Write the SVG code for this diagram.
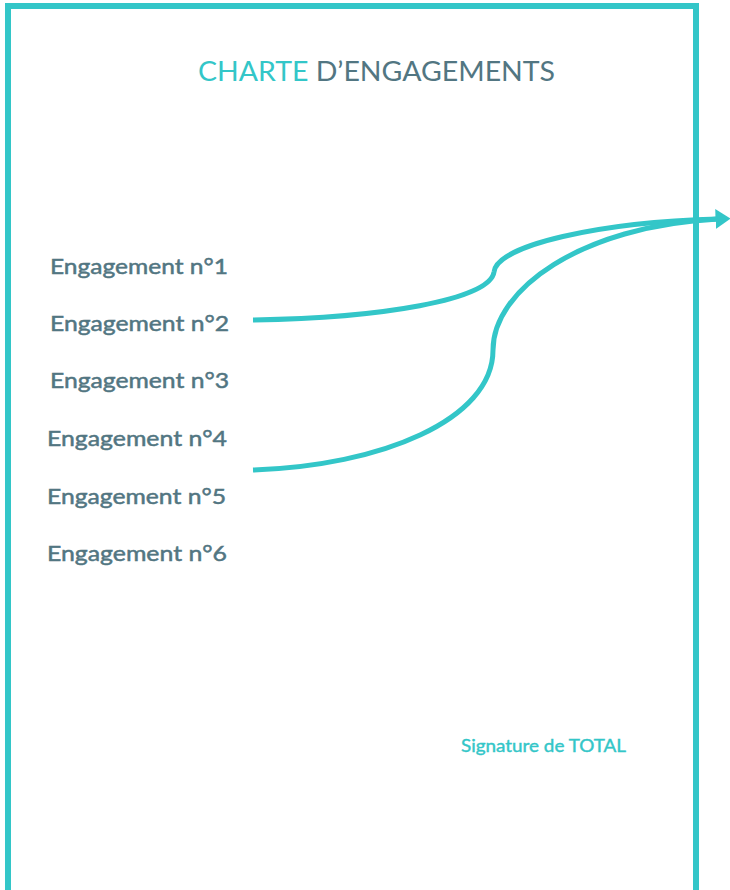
<svg xmlns="http://www.w3.org/2000/svg" width="730" height="890" viewBox="0 0 730 890">
<style>
.teal{fill:#33c6c8}
.dark{fill:#527682}
.lbl{font-family:Lato,"Noto Sans",sans-serif;font-size:22px;fill:#527682;stroke:#527682;stroke-width:0.5}
.conn{fill:none;stroke:#33c6c8;stroke-width:5;stroke-linecap:butt}
</style>
<defs>
<marker id="arr" markerWidth="4" markerHeight="4" refX="0.5" refY="2" orient="auto" markerUnits="strokeWidth">
<path d="M0,0 L3,2 L0,4 Z" fill="#33c6c8"/>
</marker>
</defs>
<rect width="730" height="890" fill="#fff"/>
<g id="frame">
<path d="M8,890 V6 H696 V890" fill="none" stroke="#33c6c8" stroke-width="6"/>
</g>
<g id="title">
<text x="198" y="81" font-family="Lato,'Noto Sans',sans-serif" font-size="27" textLength="357" lengthAdjust="spacingAndGlyphs"><tspan class="teal">CHARTE</tspan><tspan class="dark"> D’ENGAGEMENTS</tspan></text>
</g>
<g id="n1"><text class="lbl" x="50" y="274" textLength="178" lengthAdjust="spacingAndGlyphs">Engagement n°1</text></g>
<g id="n2"><text class="lbl" x="50" y="331" textLength="179" lengthAdjust="spacingAndGlyphs">Engagement n°2</text></g>
<g id="n3"><text class="lbl" x="50" y="388" textLength="179" lengthAdjust="spacingAndGlyphs">Engagement n°3</text></g>
<g id="n4"><text class="lbl" x="47" y="446" textLength="180" lengthAdjust="spacingAndGlyphs">Engagement n°4</text></g>
<g id="n5"><text class="lbl" x="47" y="504" textLength="179" lengthAdjust="spacingAndGlyphs">Engagement n°5</text></g>
<g id="n6"><text class="lbl" x="47" y="561" textLength="180" lengthAdjust="spacingAndGlyphs">Engagement n°6</text></g>
<g id="signature"><text x="461" y="752" font-family="Lato,'Noto Sans',sans-serif" font-size="17" fill="#33c6c8" stroke="#33c6c8" stroke-width="0.4" textLength="165" lengthAdjust="spacingAndGlyphs">Signature de TOTAL</text></g>
<g id="connectors">
<path class="conn" d="M253,320 C380,318 490,300 494,272 C497,245 600,222 718,219" marker-end="url(#arr)"/>
<path class="conn" d="M253,470 C380,466 493,420 493,350 C493,290 580,226 718,219"/>
</g>
</svg>
